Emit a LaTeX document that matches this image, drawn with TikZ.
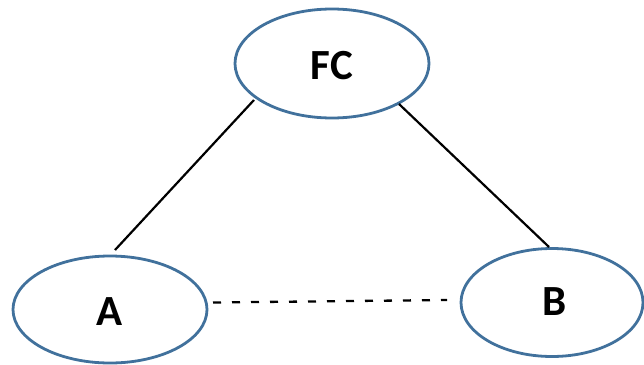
\documentclass[tikz,border=0pt]{standalone}
\usepackage{fontspec}
\setmainfont{Carlito}
\usetikzlibrary{shapes.geometric}
\definecolor{outl}{HTML}{41719C}
\begin{document}
\begin{tikzpicture}[x=1pt,y=-1pt,
  ell/.style={ellipse, draw=outl, line width=2.8pt, inner sep=0pt},
  lbl/.style={font=\fontsize{43}{50}\selectfont\bfseries},
  link/.style={line width=2.2pt, black},
  dlink/.style={line width=2.3pt, black, dash pattern=on 8pt off 11pt}]
\useasboundingbox (0,0) rectangle (644,364);
\node[ell, minimum width=194pt, minimum height=109pt] (fc) at (332,63.5) {};
\node[ell, minimum width=194pt, minimum height=107pt] (a) at (110,309.5) {};
\node[ell, minimum width=182pt, minimum height=108pt] (b) at (552,302.5) {};
\node[lbl] (fct) at (332,66) {FC};
\node[lbl] (at) at (110,312) {A};
\node[lbl] (bt) at (555,302) {B};
\coordinate (fca) at (254,100);
\coordinate (afc) at (115,250);
\coordinate (fcb) at (399,104);
\coordinate (bfc) at (549,247);
\coordinate (ab) at (213,302.5);
\coordinate (ba) at (447,300);
\draw[link] (fca) -- (afc);
\draw[link] (fcb) -- (bfc);
\draw[dlink] (ab) -- (ba);
\end{tikzpicture}
\end{document}
